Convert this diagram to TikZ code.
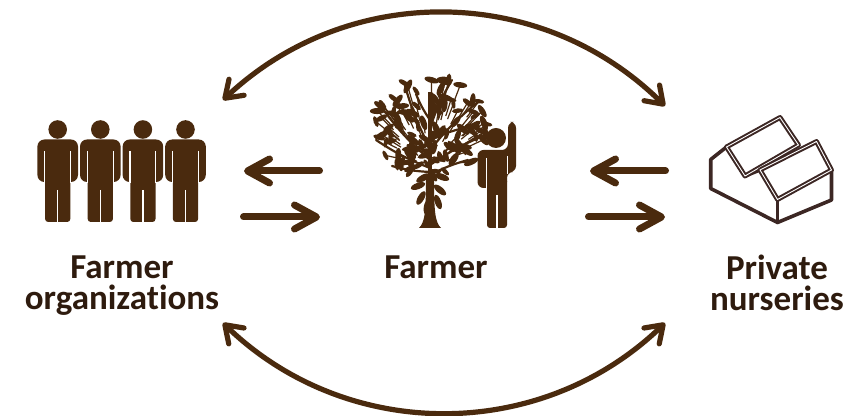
\documentclass[tikz,border=0pt]{standalone}
\usepackage{fontspec}
\setmainfont{Carlito}[RawFeature={-liga}]
\usetikzlibrary{arrows.meta,positioning}

\definecolor{iconbrown}{RGB}{74,42,14}
\definecolor{labelbrown}{RGB}{46,27,14}
\definecolor{housebrown}{RGB}{60,39,36}

\tikzset{
  lbl/.style={font=\fontsize{17.5}{15.5}\selectfont\bfseries, text=labelbrown, align=center, inner sep=0pt},
  swap/.style={draw=iconbrown, line width=3.5pt, line cap=round, >={Straight Barb[length=11pt,width=12pt,round]}},
  roundtrip/.style={draw=iconbrown, line width=2.6pt, line cap=round, >={Straight Barb[length=8pt,width=11pt,round]}},
  gap/.style={draw=white, line width=0.6pt},
  twig/.style={draw=iconbrown, line width=0.6pt},
  branch/.style={draw=iconbrown, line width=1.1pt, line cap=round},
  roofline/.style={draw=housebrown, line width=1pt, double=white, double distance=0.45pt, line join=round},
  wall/.style={draw=housebrown, line width=1.8pt, line join=round, line cap=round},
}

% one standing man, #1 = x of his middle
\newcommand{\member}[1]{%
  \fill[iconbrown] (#1,129.5) circle (9.3);
  \fill[iconbrown, rounded corners=3.5pt] (#1-20.3,182) -- (#1-20.3,139.5) -- (#1+20.3,139.5) -- (#1+20.3,182) -- cycle;
  \fill[iconbrown, rounded corners=1.5pt] (#1-12.6,170) rectangle (#1+12.6,222);
  \draw[gap] (#1-12.9,151) -- (#1-12.9,183);
  \draw[gap] (#1+12.9,151) -- (#1+12.9,183);
  \draw[gap] (#1,190) -- (#1,223);
}

\begin{document}
\begin{tikzpicture}[x=0.5pt,y=-0.5pt]
\useasboundingbox (0,0) rectangle (848,416);

\def\xorg{122}
\def\xfarm{436}
\def\xnur{777}
\def\ylbl{255}

% farmer organizations
\foreach \cx in {57.7,100.3,142.9,185.5} {\member{\cx}}

% the tree
\fill[iconbrown] (419,228) .. controls (425,222) and (426,212) .. (426,175)
  -- (434,175) .. controls (434,212) and (435,222) .. (441,228) -- cycle;
\coordinate (crown) at (430,178);
\draw[iconbrown, line width=1.8pt] (crown) -- (430,92);
\foreach \sy/\bx/\by in {168/376/140, 160/382/108, 148/404/82, 128/452/80, 150/478/102, 165/488/134, 175/468/160, 172/392/166, 120/416/94, 140/472/126}
  \draw[branch] (430,\sy) to[bend left=6] (\bx,\by);
\pgfmathsetseed{21}
\foreach \i in {1,...,125} {
  \pgfmathsetmacro\ang{360*rnd}
  \pgfmathsetmacro\rad{sqrt(rnd)}
  \pgfmathsetmacro\lx{430+58*\rad*cos(\ang)}
  \pgfmathsetmacro\ly{127+50*\rad*sin(\ang)}
  \pgfmathsetmacro\rot{180*rnd}
  \pgfmathsetmacro\len{5+3*rnd}
  \pgfmathsetmacro\wid{0.4*\len}
  \pgfmathsetmacro\tx{\lx+0.25*(430-\lx)}
  \pgfmathsetmacro\ty{\ly+0.25*(165-\ly)}
  \draw[twig] (\lx,\ly) -- (\tx,\ty);
  \fill[iconbrown, rotate around={\rot:(\lx,\ly)}] (\lx,\ly) ellipse ({\len} and {\wid});
}
\foreach \lx/\ly/\rot in {421/198/60, 418/186/20, 440/190/-40, 438/202/-70, 423/178/30, 442/177/-20, 427/207/80}
  \fill[iconbrown, rotate around={\rot:(\lx,\ly)}] (\lx,\ly) ellipse (7.5 and 3.2);

% the farmer beside it
\fill[iconbrown] (496,138) circle (10);
\fill[iconbrown, rounded corners=3pt] (477.5,188) -- (477.5,150) -- (508,150) -- (508,122)
  -- (516,122) -- (516,172) -- (507,172) -- (507,188) -- cycle;
\fill[iconbrown, rounded corners=1.5pt] (487,178) rectangle (507,228);
\draw[gap] (486.7,158) -- (486.7,190);
\draw[gap] (507.3,156) -- (507.3,174);
\draw[gap] (497,195) -- (497,229);

% private nursery house
\coordinate (A) at (726.5,147);
\coordinate (B) at (780,117.5);
\coordinate (C) at (798.5,145);
\coordinate (D) at (745,176);
\coordinate (E) at (760,170);
\coordinate (F) at (816.5,141.5);
\coordinate (G) at (831.5,170);
\coordinate (H) at (777.5,199.5);
\coordinate (I) at (710.7,159.5);
\coordinate (J) at (710.7,188.5);
\coordinate (K) at (777.5,222.5);
\coordinate (L) at (831.5,200);
\draw[wall] (A) -- (I) -- (J) -- (K) -- (L) -- (G);
\draw[wall] (K) -- (H);
\draw[wall] (D) -- (E);
\draw[roofline] (A) -- (B) -- (C) -- (D) -- cycle;
\draw[roofline] (E) -- (F) -- (G) -- (H) -- cycle;

% labels
\node[lbl, anchor=north] (orgtxt) at (\xorg,\ylbl) {Farmer\\organizations};
\node[lbl, anchor=north] (farmtxt) at (\xfarm,\ylbl) {Farmer};
\node[lbl, anchor=north] (nurtxt) at (\xnur,\ylbl) {Private\\nurseries};

% exchange arrows
\coordinate (orgtop) at (223,100);
\coordinate (nurtop) at (665,106);
\coordinate (orgbot) at (223,323);
\coordinate (nurbot) at (665,323);
\draw[roundtrip,<->] (orgtop) to[bend left=44] (nurtop);
\draw[roundtrip,<->] (orgbot) to[bend right=44] (nurbot);

\coordinate (la) at (319.5,171);
\coordinate (lb) at (244,171);
\coordinate (lc) at (243.5,217);
\coordinate (ld) at (320,217);
\draw[swap,->] (la) -- (lb);
\draw[swap,->] (lc) -- (ld);

\coordinate (ra) at (665.5,171);
\coordinate (rb) at (590,171);
\coordinate (rc) at (588.5,217);
\coordinate (rd) at (665,217);
\draw[swap,->] (ra) -- (rb);
\draw[swap,->] (rc) -- (rd);
\end{tikzpicture}
\end{document}
